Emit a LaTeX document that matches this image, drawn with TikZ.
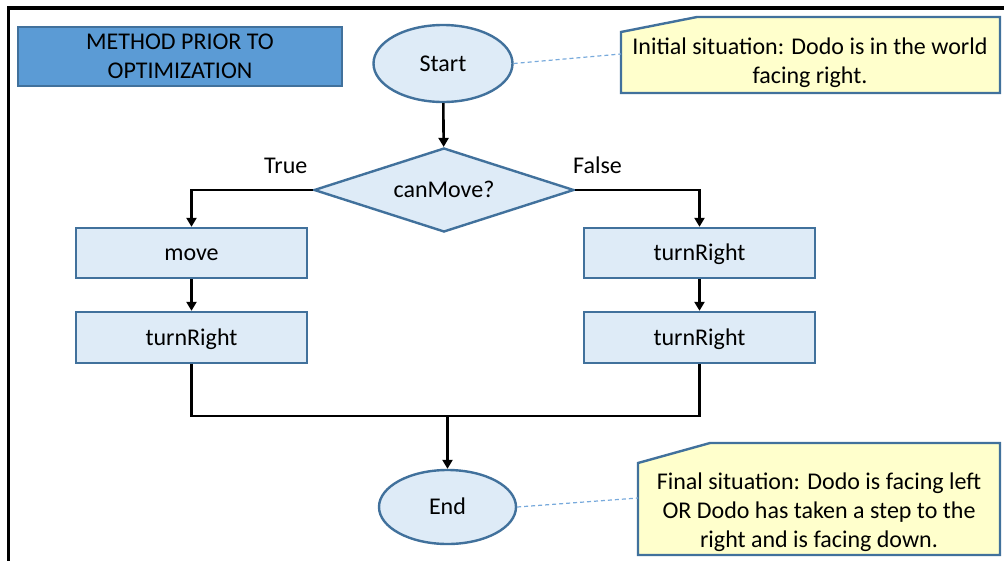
\documentclass[tikz,border=0pt]{standalone}
\usepackage{fontspec}
\setmainfont{Carlito}
\usetikzlibrary{shapes.geometric,arrows.meta}
\definecolor{nodefill}{RGB}{222,235,247}
\definecolor{nodeline}{RGB}{65,113,156}
\definecolor{titlefill}{RGB}{91,155,213}
\definecolor{notefill}{RGB}{255,255,204}
\definecolor{dashblue}{RGB}{120,170,220}
\newcommand{\bigfont}{\fontsize{24pt}{29pt}\selectfont}
\tikzset{
  onetext/.style={font=\bigfont, text height=15.5pt, text depth=0pt, inner sep=0pt},
  termnode/.style={onetext, ellipse, draw=nodeline, fill=nodefill, line width=2.4pt},
  procbox/.style={onetext, rectangle, draw=nodeline, fill=nodefill, line width=2.4pt,
    minimum width=231pt, minimum height=50pt},
  decnode/.style={onetext, diamond, aspect=3.1, draw=nodeline, fill=nodefill, line width=2.4pt,
    minimum width=260pt, minimum height=84pt},
  notebox/.style={draw=nodeline, fill=notefill, line width=2.4pt},
  notetext/.style={font=\bigfont, align=center, inner sep=0pt},
  flow/.style={line width=2.6pt, black},
  arr/.style={flow, -{Triangle[length=9pt,width=10pt]}},
  linkline/.style={dashblue, line width=1.2pt, dash pattern=on 4pt off 3pt},
  branchlabel/.style={font=\bigfont, inner sep=0pt, anchor=base west},
}
\begin{document}
\begin{tikzpicture}[x=1pt,y=-1pt]
\useasboundingbox (0,0) rectangle (1004,560);
\clip (0,0) rectangle (1004,560);
\fill[white] (0,0) rectangle (1004,560);
% frame
\draw[black, line width=3.5pt] (8.5,580) -- (8.5,8) -- (1030,8);

% title
\node[draw=nodeline, fill=titlefill, line width=2.4pt, minimum width=324pt, minimum height=59pt,
      font=\bigfont, align=center, inner sep=0pt] (title) at (180,56.5)
      {METHOD PRIOR TO\\OPTIMIZATION};

% flow nodes
\node[termnode, minimum width=139pt, minimum height=77pt] (start) at (443,63.5) {Start};
\node[decnode] (dec) at (444,190) {canMove?};
\node[procbox] (move) at (191.5,253) {move};
\node[procbox, minimum height=51pt] (trl) at (191.5,337.5) {turnRight};
\node[procbox] (tra) at (699.5,253) {turnRight};
\node[procbox, minimum height=51pt] (trb) at (699.5,337.5) {turnRight};
\node[termnode, minimum width=137pt, minimum height=74pt] (end) at (447.5,507) {End};

% callouts
\path[notebox] (697,17) -- (1000,17) -- (1000,93) -- (621,93) -- (621,32) -- cycle;
\node[notetext] (inittext) at (810,63) {Initial situation: Dodo is in the world\\facing right.};
\coordinate (initlink) at (621,54);
\path[notebox] (710,443) -- (1000,443) -- (1000,555) -- (638,555) -- (638,463) -- cycle;
\node[notetext] (finaltext) at (819,512) {Final situation: Dodo is facing left\\OR Dodo has taken a step to the\\right and is facing down.};
\coordinate (finallink) at (638,498);

% branch labels
\node[branchlabel] (truelbl) at (264,173) {True};
\node[branchlabel] (falselbl) at (573,173) {False};

% connectors
\draw[arr] (start) -- (dec);
\draw[arr] (dec.west) -| (move.north);
\draw[arr] (dec.east) -| (tra.north);
\draw[arr] (move) -- (trl);
\draw[arr] (tra) -- (trb);
\coordinate (merge) at (447.5,416);
\draw[flow] (trl.south) |- (merge) -| (trb.south);
\draw[arr] (merge) -- (end);

% dashed links
\draw[linkline] (start.east) -- (initlink);
\draw[linkline] (end.east) -- (finallink);
\end{tikzpicture}
\end{document}
